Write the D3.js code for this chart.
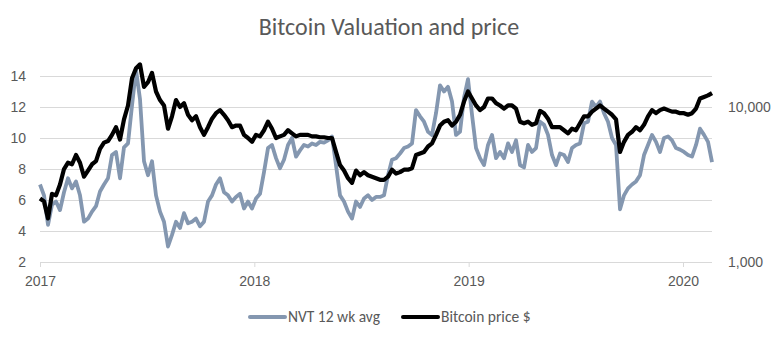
<!DOCTYPE html>
<html>
<head>
<meta charset="utf-8">
<script src="https://cdn.jsdelivr.net/npm/d3@7"></script>
<style>
  body { margin: 0; background: #fff; }
  svg { display: block; font-family: Carlito, Lato, "Liberation Sans", sans-serif; }
</style>
</head>
<body>
<div id="chart"></div>
<script>
// readings, one every ~6.8 days from 1 Jan 2017
const startDate = new Date(2017, 0, 1);
const stepDays = 6.812;

// NVT 12 week average (left axis)
const nvt = [
  7.0, 6.3, 4.4, 5.7, 5.9, 5.35, 6.5, 7.4, 6.75, 7.2, 6.3, 4.6, 4.8, 5.25, 5.6, 6.55, 7.0, 7.4, 8.9, 9.1, 7.4, 9.4,
  9.65, 12.1, 14.4, 12.5, 8.5, 7.6, 8.5, 6.3, 5.25, 4.6, 3.0, 3.75, 4.6, 4.2, 5.15, 4.5, 4.6, 4.8, 4.3, 4.6, 5.9,
  6.3, 7.0, 7.4, 6.5, 6.3, 5.9, 6.2, 6.4, 5.45, 5.9, 5.45, 6.1, 6.4, 7.8, 9.35, 9.55, 8.7, 8.05, 8.6, 9.55, 10.0,
  8.8, 9.2, 9.55, 9.45, 9.65, 9.55, 9.75, 9.7, 9.85, 10.1, 8.25, 6.3, 5.9, 5.25, 4.8, 5.9, 5.55, 6.1, 6.3, 6.0, 6.2,
  6.2, 6.3, 7.6, 8.6, 8.7, 9.0, 9.35, 9.45, 9.65, 11.8, 11.4, 11.05, 10.4, 10.2, 11.6, 13.4, 13.0, 13.3, 12.35, 10.2, 10.4,
  12.6, 13.8, 11.5, 9.35, 8.7, 8.25, 9.55, 10.2, 8.7, 9.1, 8.7, 9.65, 9.1, 9.85, 8.25, 8.1, 9.55, 9.1, 9.35, 11.05, 10.85,
  10.2, 8.9, 8.25, 9.0, 8.9, 8.45, 9.35, 9.55, 9.65, 10.95, 11.05, 12.35, 12.0, 12.35, 11.6, 11.05, 10.0, 9.55, 5.4, 6.3, 6.75,
  7.0, 7.2, 7.6, 8.9, 9.55, 10.2, 9.75, 9.1, 10.0, 10.1, 9.85, 9.35, 9.25, 9.1, 8.9, 8.8, 9.55, 10.6, 10.2, 9.75, 8.45
];

// Bitcoin price in $ (right axis, log)
const price = [
  2570, 2460, 1910, 2750, 2690, 3160, 3980, 4370, 4270, 4900, 4370, 3550, 3890, 4270, 4470, 5370, 5890, 6030, 6610, 7410, 6170, 8320,
  10230, 15310, 17780, 18840, 13490, 14450, 16600, 12590, 11090, 10230, 7240, 8710, 11090, 10000, 10590, 8910, 8220, 8710, 7410, 6610, 7410,
  8410, 9120, 9550, 8910, 8220, 7410, 7590, 7590, 6610, 6310, 5960, 6610, 6460, 7080, 8040, 7240, 6310, 6460, 6610, 7080, 6760,
  6460, 6610, 6610, 6610, 6460, 6460, 6380, 6380, 6310, 6310, 5130, 4220, 3890, 3470, 3240, 3890, 3630, 3800, 3630, 3550, 3470,
  3390, 3390, 3550, 3940, 3720, 3800, 3940, 3940, 4030, 4900, 5010, 5130, 5560, 5820, 6610, 7590, 8040, 8220, 7590, 8040, 8910,
  10840, 12590, 11350, 10230, 9550, 10000, 11350, 11350, 10590, 10230, 9770, 10230, 10230, 9770, 8040, 7850, 8040, 7670, 7850, 9440, 9120,
  8410, 7410, 7410, 7410, 7080, 6760, 7240, 7080, 7850, 8710, 8710, 9330, 9770, 10230, 9770, 9330, 8910, 8320, 5130, 5960, 6610,
  6920, 7410, 7080, 7670, 8710, 9550, 9120, 9550, 9770, 9550, 9330, 9330, 9120, 9120, 8910, 9120, 9770, 11350, 11610, 11890, 12300
];

const leftTicks = [2, 4, 6, 8, 10, 12, 14];
const rightTicks = [1000, 10000];
const yearTicks = [2017, 2018, 2019, 2020];
const seriesNames = ["NVT 12 wk avg", "Bitcoin price $"];

const dates = nvt.map((_, i) => new Date(+startDate + i * stepDays * 864e5));

const width = 778;
const height = 340;
const marginTop = 76;
const marginRight = 66;
const marginBottom = 78;
const marginLeft = 40;
const gridColor = "#d9d9d9";
const textColor = "#595959";
const nvtColor = "#8497b0";
const tickFont = 14;

const svg = d3.select("#chart").append("svg")
    .attr("width", width)
    .attr("height", height)
    .attr("viewBox", [0, 0, width, height]);

const x = d3.scaleTime()
    .domain([new Date(2017, 0, 1), new Date(2020, 0, 1)])
    .range([marginLeft, 683]);

const y = d3.scaleLinear()
    .domain([2, 14])
    .range([height - marginBottom, marginTop]);

const yPrice = d3.scaleLog()
    .domain([1000, 1000 * Math.pow(10, 1.2)])
    .range([height - marginBottom, marginTop]);

const plotRight = width - marginRight;

// title
svg.append("text")
    .attr("x", 389)
    .attr("y", 35)
    .attr("text-anchor", "middle")
    .attr("font-size", 24)
    .attr("fill", textColor)
    .text("Bitcoin Valuation and price");

// left axis + gridlines
svg.append("g")
    .attr("transform", `translate(${marginLeft},0)`)
    .call(d3.axisLeft(y).tickValues(leftTicks).tickSize(0).tickPadding(14))
    .call(g => g.select(".domain").remove())
    .call(g => g.selectAll(".tick line").clone()
        .attr("x2", plotRight - marginLeft)
        .attr("stroke", gridColor))
    .call(g => g.selectAll(".tick text")
        .attr("font-size", tickFont)
        .attr("font-family", null)
        .attr("fill", textColor));

// right axis (log)
svg.append("g")
    .attr("transform", `translate(${plotRight},0)`)
    .call(d3.axisRight(yPrice).tickValues(rightTicks).tickFormat(d3.format(",")).tickSize(0).tickPadding(16))
    .call(g => g.select(".domain").remove())
    .call(g => g.selectAll(".tick text")
        .attr("font-size", tickFont)
        .attr("font-family", null)
        .attr("fill", textColor));

// bottom axis
svg.append("g")
    .attr("transform", `translate(0,${height - marginBottom})`)
    .call(d3.axisBottom(x)
        .tickValues(yearTicks.map(yr => new Date(yr, 0, 1)))
        .tickFormat(d3.timeFormat("%Y"))
        .tickSize(5).tickPadding(9).tickSizeOuter(0))
    .call(g => g.select(".domain")
        .attr("d", `M${marginLeft},0.5H${plotRight}`)
        .attr("stroke", gridColor))
    .call(g => g.selectAll(".tick line").attr("stroke", gridColor))
    .call(g => g.selectAll(".tick text")
        .attr("font-size", tickFont)
        .attr("font-family", null)
        .attr("fill", textColor));

const nvtLine = d3.line()
    .x((d, i) => x(dates[i]))
    .y(d => y(d));

const priceLine = d3.line()
    .x((d, i) => x(dates[i]))
    .y(d => yPrice(d));

svg.append("path")
    .datum(nvt)
    .attr("fill", "none")
    .attr("stroke", nvtColor)
    .attr("stroke-width", 3.8)
    .attr("stroke-linejoin", "round")
    .attr("d", nvtLine);

svg.append("path")
    .datum(price)
    .attr("fill", "none")
    .attr("stroke", "#000")
    .attr("stroke-width", 4.2)
    .attr("stroke-linejoin", "round")
    .attr("d", priceLine);

// legend
const legend = svg.append("g")
    .attr("font-size", 15.5)
    .attr("fill", textColor);

const legendItems = [
  { name: seriesNames[0], color: nvtColor, x0: 250 },
  { name: seriesNames[1], color: "#000", x0: 403 }
];

legendItems.forEach(item => {
  legend.append("line")
      .attr("x1", item.x0).attr("x2", item.x0 + 35)
      .attr("y1", 317).attr("y2", 317)
      .attr("stroke", item.color)
      .attr("stroke-width", 4)
      .attr("stroke-linecap", "round");
  legend.append("text")
      .attr("x", item.x0 + 38)
      .attr("y", 317)
      .attr("dy", "0.35em")
      .text(item.name);
});
</script>
</body>
</html>
